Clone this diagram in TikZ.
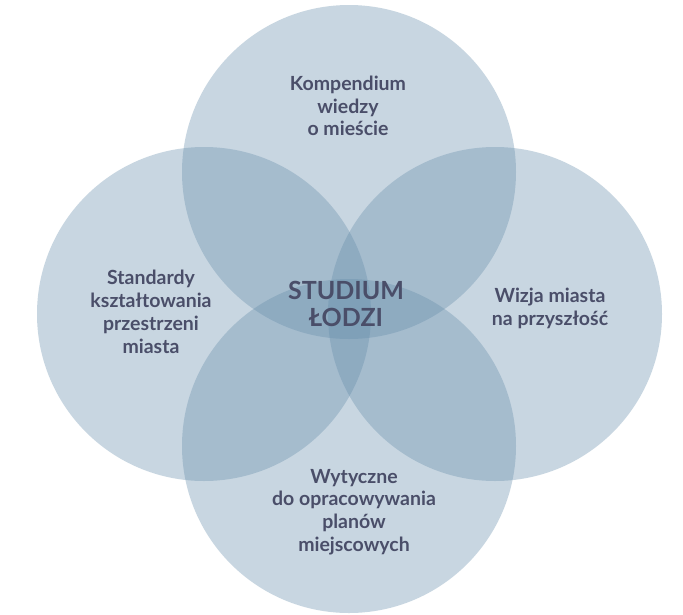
\documentclass[tikz,border=0pt]{standalone}
\usepackage{fontspec}
\setmainfont{Lato}
\definecolor{circfill}{RGB}{100,140,170}
\definecolor{txt}{RGB}{74,78,105}
\tikzset{
  venn/.style={fill=circfill, fill opacity=0.35, draw=none},
  lbl/.style={text=txt, align=center, font=\bfseries\fontsize{19.5}{22.8}\selectfont, inner sep=0pt},
  biglbl/.style={text=txt, align=center, font=\bfseries\fontsize{25}{27.5}\selectfont, inner sep=0pt}
}
\begin{document}
\begin{tikzpicture}[x=1pt,y=-1pt]
\fill[white] (0,0) rectangle (683,614);
\useasboundingbox (0,0) rectangle (683,614);
\coordinate (ct) at (349,172);
\coordinate (cb) at (349,446);
\coordinate (cl) at (204,314);
\coordinate (cr) at (495,314);
\fill[venn] (ct) circle[radius=167];
\fill[venn] (cl) circle[radius=167];
\fill[venn] (cr) circle[radius=167];
\fill[venn] (cb) circle[radius=167];
\node[lbl] (top) at (348,106) {Kompendium\\wiedzy\\o mieście};
\node[lbl] (left) at (151,312) {Standardy\\kształtowania\\przestrzeni\\miasta};
\node[lbl] (right) at (550,308) {Wizja miasta\\na przyszłość};
\node[lbl] (bottom) at (354,512) {Wytyczne\\do opracowywania\\planów\\miejscowych};
\node[biglbl] (center) at (346,304) {STUDIUM\\ŁODZI};
\end{tikzpicture}
\end{document}
